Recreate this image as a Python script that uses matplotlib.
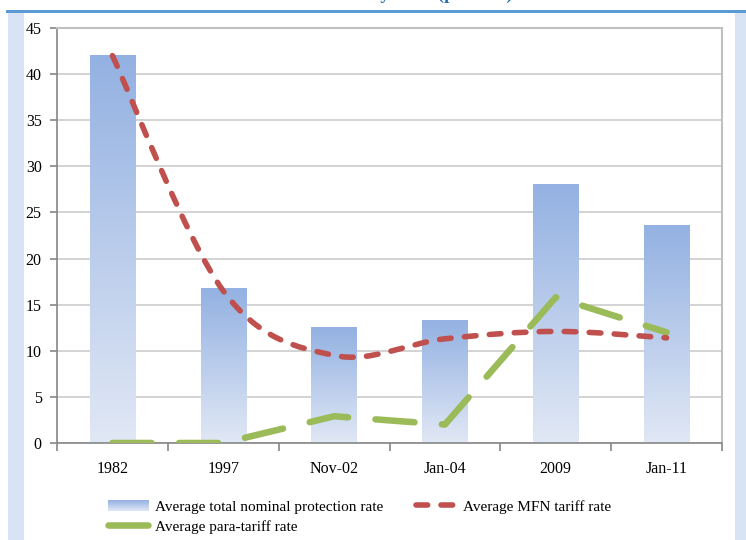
import numpy as np
import matplotlib
matplotlib.use("Agg")
import matplotlib.pyplot as plt
from matplotlib.path import Path
from matplotlib.patches import PathPatch, Rectangle, Patch
from matplotlib.lines import Line2D
from matplotlib.colors import LinearSegmentedColormap
from matplotlib.legend_handler import HandlerBase
from matplotlib.image import BboxImage
from matplotlib.transforms import Bbox, TransformedBbox

plt.rcParams['font.family'] = ['Liberation Serif', 'DejaVu Serif']

periods = ['1982', '1997', 'Nov-02', 'Jan-04', '2009', 'Jan-11']
total_npr = [42.0, 16.7, 12.5, 13.3, 28.0, 23.6]
mfn_rate = [42.0, 16.5, 9.5, 11.3, 12.1, 11.4]
para_rate = [0.0, 0.0, 2.9, 2.0, 15.8, 12.0]

W, H = 746, 540


def fx(px):
    return px / W


def fy(py):
    return 1 - py / H


def smooth_path(xs, ys):
    # catmull-rom style bezier, like excel's "smoothed line"
    pts = np.column_stack([xs, ys]).astype(float)
    n = len(pts)
    verts, codes = [pts[0]], [Path.MOVETO]
    for i in range(n - 1):
        p0 = pts[max(i - 1, 0)]
        p1, p2 = pts[i], pts[i + 1]
        p3 = pts[min(i + 2, n - 1)]
        verts += [p1 + (p2 - p0) / 6, p2 - (p3 - p1) / 6, p2]
        codes += [Path.CURVE4] * 3
    return Path(verts, codes)


cmap = LinearSegmentedColormap.from_list('barg', ['#e1e8f5', '#93b1e2'])
grad = np.linspace(0, 1, 256).reshape(-1, 1)


class GradHandler(HandlerBase):
    def create_artists(self, legend, orig, xd, yd, width, height, fontsize, trans):
        bb = TransformedBbox(Bbox.from_bounds(-xd, -yd, width, height), trans)
        img = BboxImage(bb, cmap=cmap, origin='lower', interpolation='bilinear')
        img.set_data(grad)
        return [img]


fig = plt.figure(figsize=(W / 100, H / 100), dpi=100)
fig.patch.set_facecolor('white')

# slide frame bits
light = '#d8e4f3'
fig.add_artist(Rectangle((fx(8), 0), fx(24) - fx(8), fy(13), transform=fig.transFigure,
                         color=light, lw=0, zorder=0))
fig.add_artist(Rectangle((fx(735), 0), fx(746) - fx(735), fy(13), transform=fig.transFigure,
                         color=light, lw=0, zorder=0))
fig.add_artist(Rectangle((fx(6), fy(13)), 1 - fx(6), fy(10) - fy(13), transform=fig.transFigure,
                         color='#5b9bd5', lw=0, zorder=0))
# title sits above the crop, only its descenders show
fig.text(fx(513), fy(-1), 'Protection Rates by Year (percent)', ha='right', va='baseline',
         fontsize=14, fontweight='bold', color='#2e75b6')

ax = fig.add_axes([fx(57), fy(443), fx(722) - fx(57), fy(28) - fy(443)])
x = np.arange(len(periods))

bars = ax.bar(x, total_npr, width=0.41, color='none', zorder=2)
for b in bars:
    x0, w, h = b.get_x(), b.get_width(), b.get_height()
    ax.imshow(grad, extent=[x0, x0 + w, 0, h], origin='lower', cmap=cmap,
              aspect='auto', zorder=2)

red = '#c0504d'
green = '#9bbb59'
mfn_patch = PathPatch(smooth_path(x, mfn_rate), fill=False, edgecolor=red, lw=4,
                      linestyle=(0, (2.1, 2.4)), capstyle='round', zorder=4)
ax.add_patch(mfn_patch)
ax.plot(x, para_rate, color=green, lw=4.7, linestyle=(0, (6.0, 4.2)),
        dash_capstyle='round', solid_joinstyle='round', zorder=3)

ax.set_xlim(-0.5, len(periods) - 0.5)
ax.set_ylim(0, 45)
ax.set_yticks(np.arange(0, 46, 5))
ax.set_xticks(x)
ax.set_xticklabels(periods)
ax.set_xticks(np.arange(-0.5, len(periods), 1), minor=True)
ax.tick_params(axis='x', which='major', length=0, pad=13, labelsize=11.5)
ax.tick_params(axis='x', which='minor', length=6, color='#868686', width=1.2)
ax.tick_params(axis='y', length=5, color='#868686', width=1.2, pad=6, labelsize=11.5)
ax.yaxis.grid(True, color='#d0d0d0', lw=1.3)
ax.set_axisbelow(True)
for s in ['left', 'bottom']:
    ax.spines[s].set_color('#868686')
    ax.spines[s].set_linewidth(1.2)
for s in ['top', 'right']:
    ax.spines[s].set_color('#c0c0c0')
    ax.spines[s].set_linewidth(1.5)

bar_handle = Patch()
handles = [
    bar_handle,
    Line2D([], [], color=green, lw=4.7, solid_capstyle='round'),
    Line2D([], [], color=red, lw=4, linestyle=(0, (2.1, 2.4)), dash_capstyle='round'),
]
labels = ['Average total nominal protection rate', 'Average para-tariff rate',
          'Average MFN tariff rate']
fig.legend(handles, labels, ncol=2, loc='upper left', bbox_to_anchor=(fx(108), fy(500)),
           bbox_transform=fig.transFigure, frameon=False, fontsize=11,
           handlelength=2.65, handleheight=0.7, handletextpad=0.45, columnspacing=2.1,
           labelspacing=0.4, borderpad=0, borderaxespad=0,
           handler_map={bar_handle: GradHandler()})

fig.savefig('out.png', dpi=100)
